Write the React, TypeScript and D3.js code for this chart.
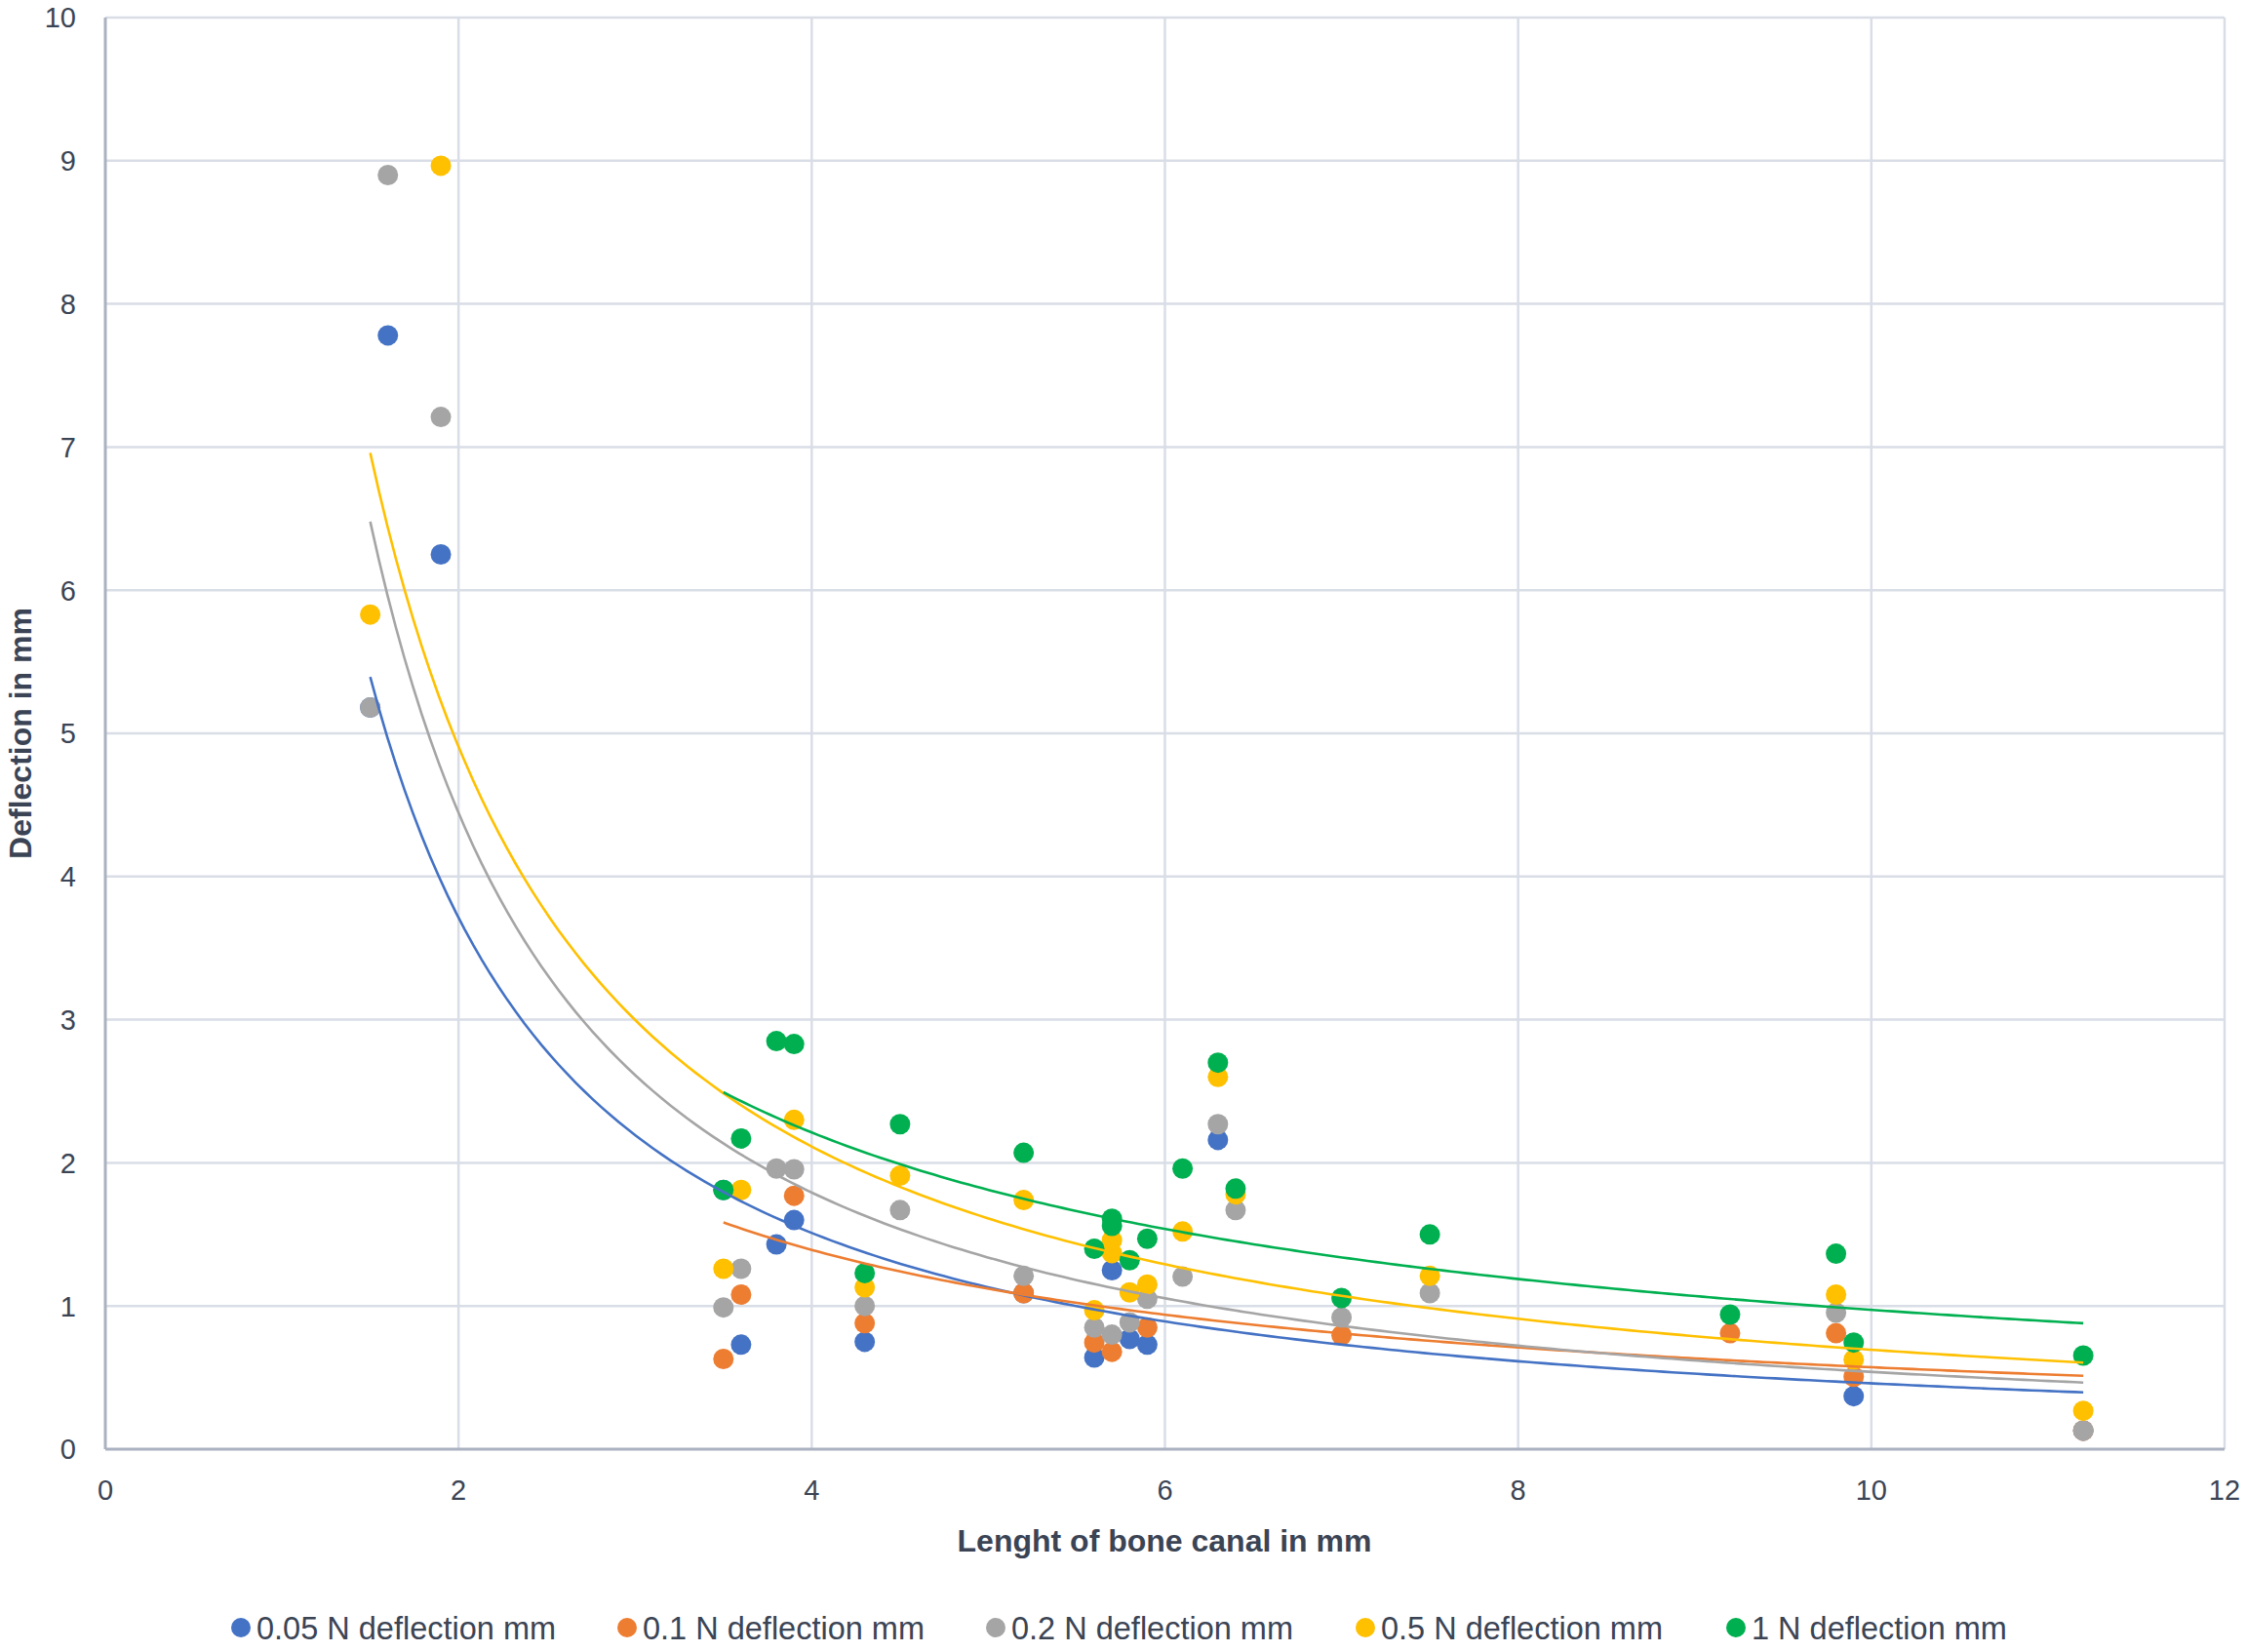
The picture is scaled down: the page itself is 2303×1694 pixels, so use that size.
import React from 'react';
import * as d3 from 'd3';

// canal length (mm) and deflection (mm) for each load
const seriesNames = ['0.05 N deflection mm', '0.1 N deflection mm', '0.2 N deflection mm', '0.5 N deflection mm', '1 N deflection mm'];
const seriesColors = ['#4472C4', '#ED7D31', '#A5A5A5', '#FFC000', '#00B050'];

const x005 = [1.5, 1.6, 1.9, 3.5, 3.6, 3.8, 3.9, 4.3, 5.2, 5.6, 5.7, 5.8, 5.9, 6.3, 9.9, 11.2];
const y005 = [5.18, 7.78, 6.25, 1.81, 0.73, 1.43, 1.6, 0.75, 1.09, 0.64, 1.25, 0.77, 0.73, 2.16, 0.37, 0.13];

const x01 = [3.5, 3.6, 3.9, 4.3, 5.2, 5.6, 5.7, 5.9, 7.0, 9.2, 9.8, 9.9, 11.2];
const y01 = [0.63, 1.08, 1.77, 0.88, 1.09, 0.745, 0.68, 0.85, 0.795, 0.81, 0.81, 0.506, 0.13];

const x02 = [1.5, 1.6, 1.9, 3.5, 3.6, 3.8, 3.9, 4.3, 4.5, 5.2, 5.6, 5.7, 5.8, 5.9, 6.1, 6.3, 6.4, 7.0, 7.5, 9.8, 11.2];
const y02 = [5.18, 8.9, 7.21, 0.99, 1.26, 1.96, 1.955, 1.0, 1.67, 1.21, 0.85, 0.8, 0.886, 1.05, 1.205, 2.27, 1.67, 0.92, 1.09, 0.954, 0.13];

const x05 = [1.5, 1.9, 3.5, 3.6, 3.9, 4.3, 4.5, 5.2, 5.6, 5.7, 5.7, 5.8, 5.9, 6.1, 6.3, 6.4, 7.5, 9.8, 9.9, 11.2];
const y05 = [5.83, 8.965, 1.26, 1.81, 2.3, 1.13, 1.91, 1.74, 0.97, 1.46, 1.37, 1.095, 1.15, 1.52, 2.6, 1.78, 1.21, 1.08, 0.625, 0.268];

const x1 = [3.5, 3.6, 3.8, 3.9, 4.3, 4.5, 5.2, 5.6, 5.7, 5.7, 5.8, 5.9, 6.1, 6.3, 6.4, 7.0, 7.5, 9.2, 9.8, 9.9, 11.2];
const y1 = [1.81, 2.17, 2.85, 2.83, 1.23, 2.27, 2.07, 1.4, 1.61, 1.56, 1.32, 1.47, 1.96, 2.7, 1.82, 1.056, 1.5, 0.94, 1.365, 0.745, 0.654];

// power trendlines y = a * x^b, coefficients
const trendA = [9.13, 5.34, 11.02, 11.39, 7.66];
const trendB = [-1.298, -0.970, -1.310, -1.215, -0.896];

const xTicks = [0, 2, 4, 6, 8, 10, 12];
const yTicks = [0, 1, 2, 3, 4, 5, 6, 7, 8, 9, 10];

const seriesX = [x005, x01, x02, x05, x1];
const seriesY = [y005, y01, y02, y05, y1];

const W = 2303;
const H = 1694;
const textColor = '#3b4454';
const font = '"Liberation Sans", Arial, sans-serif';

const App: React.FC = () => {
    const x = d3.scaleLinear().domain([0, 12]).range([108, 2281]);
    const y = d3.scaleLinear().domain([0, 10]).range([1486, 18]);
    const line = d3.line<number[]>(d => x(d[0]), d => y(d[1]));

    const trends = seriesX.map((xs, i) => {
        const [lo, hi] = d3.extent(xs) as [number, number];
        const pts = d3.range(0, 201).map(k => {
            const xv = lo + (hi - lo) * k / 200;
            return [xv, trendA[i] * Math.pow(xv, trendB[i])];
        });
        return line(pts) as string;
    });

    const legendX = [247, 643, 1021, 1400, 1780];

    return (
        <svg width={W} height={H} style={{ position: 'absolute', left: 0, top: 0, background: '#fff' }} fontFamily={font}>
            <rect width={W} height={H} fill="#fff" />
            {/* grid */}
            <g stroke="#d9dde6" strokeWidth={2.5}>
                {yTicks.filter(t => t > 0).map(t => (
                    <line key={'gy' + t} x1={x(0)} x2={x(12)} y1={y(t)} y2={y(t)} />
                ))}
                {xTicks.filter(t => t > 0).map(t => (
                    <line key={'gx' + t} x1={x(t)} x2={x(t)} y1={y(0)} y2={y(10)} />
                ))}
            </g>
            {/* axes */}
            <g stroke="#aab1c0" strokeWidth={3}>
                <line x1={x(0)} x2={x(0)} y1={y(0)} y2={y(10)} />
                <line x1={x(0)} x2={x(12)} y1={y(0)} y2={y(0)} />
            </g>
            {/* tick labels */}
            <g fill={textColor} fontSize={29}>
                {yTicks.map(t => (
                    <text key={'ty' + t} x={78} y={y(t)} dy="0.36em" textAnchor="end">{t}</text>
                ))}
                {xTicks.map(t => (
                    <text key={'tx' + t} x={x(t)} y={1538} textAnchor="middle">{t}</text>
                ))}
            </g>
            {/* points */}
            {seriesX.map((xs, i) => (
                <g key={'s' + i} fill={seriesColors[i]}>
                    {xs.map((xv, j) => (
                        <circle key={j} cx={x(xv)} cy={y(seriesY[i][j])} r={10.5} />
                    ))}
                </g>
            ))}
            {/* trendlines */}
            {trends.map((d, i) => (
                <path key={'t' + i} d={d} fill="none" stroke={seriesColors[i]} strokeWidth={2.6} />
            ))}
            {/* axis titles */}
            <text x={1194} y={1591} textAnchor="middle" fontSize={32} fontWeight="bold" fill={textColor}>
                Lenght of bone canal in mm
            </text>
            <text transform="translate(32,752) rotate(-90)" textAnchor="middle" fontSize={32} fontWeight="bold" fill={textColor}>
                Deflection in mm
            </text>
            {/* legend */}
            {seriesNames.map((name, i) => (
                <g key={'l' + i}>
                    <circle cx={legendX[i]} cy={1669} r={10} fill={seriesColors[i]} />
                    <text x={legendX[i] + 16} y={1681} fontSize={32.5} fill={textColor}>{name}</text>
                </g>
            ))}
        </svg>
    );
};

export default App;
